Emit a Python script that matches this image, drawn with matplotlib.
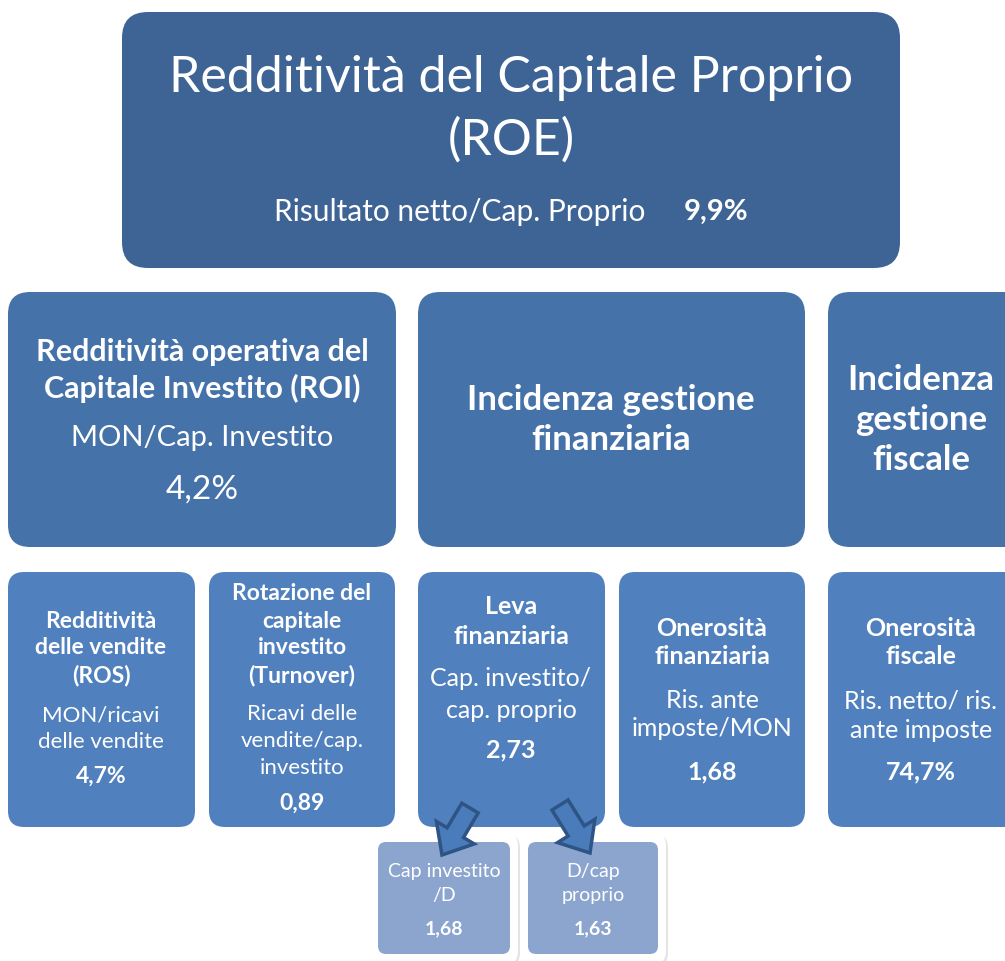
import matplotlib
matplotlib.use("Agg")
import matplotlib.pyplot as plt
from matplotlib.patches import FancyBboxPatch, FancyArrow

plt.rcParams['font.family'] = ['Lato', 'DejaVu Sans']

# Contenuti dello schema (testi e valori)
roe_title = ["Redditività del Capitale Proprio", "(ROE)"]
roe_formula = "Risultato netto/Cap. Proprio"
roe_value = "9,9%"

mid_titles = [
    ["Redditività operativa del", "Capitale Investito (ROI)"],
    ["Incidenza gestione", "finanziaria"],
    ["Incidenza", "gestione", "fiscale"],
]
mid_formulas = [["MON/Cap. Investito"], [], []]
mid_values = ["4,2%", "", ""]

low_titles = [
    ["Redditività", "delle vendite", "(ROS)"],
    ["Rotazione del", "capitale", "investito", "(Turnover)"],
    ["Leva", "finanziaria"],
    ["Onerosità", "finanziaria"],
    ["Onerosità", "fiscale"],
]
low_formulas = [
    ["MON/ricavi", "delle vendite"],
    ["Ricavi delle", "vendite/cap.", "investito"],
    ["Cap. investito/", "cap. proprio"],
    ["Ris. ante", "imposte/MON"],
    ["Ris. netto/ ris.", "ante imposte"],
]
low_values = ["4,7%", "0,89", "2,73", "1,68", "74,7%"]

sub_labels = [["Cap investito", "/D"], ["D/cap", "proprio"]]
sub_values = ["1,68", "1,63"]

# Colori
c_top = "#3E6496"
c_mid = "#4672AA"
c_low = "#5081BE"
c_sub = "#8BA5CE"
c_arrow = "#4A7BBA"
c_arrow_edge = "#2E5485"

fig = plt.figure(figsize=(10.05, 9.61), dpi=100)
ax = fig.add_axes([0, 0, 1, 1])
ax.set_xlim(0, 1005)
ax.set_ylim(961, 0)
ax.axis("off")


def box(x0, y0, x1, y1, color, r=22, **kw):
    p = FancyBboxPatch((x0, y0), x1 - x0, y1 - y0,
                       boxstyle=f"round,pad=0,rounding_size={r}",
                       fc=color, ec="none", **kw)
    ax.add_patch(p)
    return p


def lines(x, ys, texts, size, bold=False):
    for y, t in zip(ys, texts):
        ax.text(x, y, t, ha="center", va="center", color="white",
                fontsize=size, fontweight="bold" if bold else "normal")


# Livello 1: ROE
box(122, 12, 900, 268, c_top, r=26)
lines(511, [78, 140], roe_title, 36)
ax.text(460, 212, roe_formula, ha="center", va="center", color="white", fontsize=21.5)
ax.text(716, 212, roe_value, ha="center", va="center", color="white",
        fontsize=21, fontweight="bold")

# Livello 2
mid_x = [(8, 396), (418, 805), (828, 1030)]
mid_cx = [202, 611, 921]
mid_title_y = [[352, 388], [400, 440], [380, 420, 460]]
mid_size = [22, 25, 25]
for i in range(3):
    box(mid_x[i][0], 292, mid_x[i][1], 547, c_mid)
    lines(mid_cx[i], mid_title_y[i], mid_titles[i], mid_size[i], bold=True)
lines(mid_cx[0], [438], mid_formulas[0], 21)
lines(mid_cx[0], [490], [mid_values[0]], 24)

# Livello 3
low_x = [(8, 195), (209, 395), (418, 605), (619, 805), (828, 1030)]
low_cx = [101, 302, 511, 712, 921]
low_title_y = [[622, 648, 675], [594, 621, 648, 675], [607, 636], [629, 657], [629, 657]]
low_form_y = [[715, 742], [714, 741, 768], [679, 710], [700, 729], [701, 730]]
low_val_y = [776, 803, 750, 772, 772]
low_title_size = [16.5, 16.5, 18, 18, 18]
low_form_size = [16, 16, 18, 18, 18]
for i in range(5):
    box(low_x[i][0], 572, low_x[i][1], 827, c_low, r=16)
    lines(low_cx[i], low_title_y[i], low_titles[i], low_title_size[i], bold=True)
    lines(low_cx[i], low_form_y[i], low_formulas[i], low_form_size[i])
    lines(low_cx[i], [low_val_y[i]], [low_values[i]], low_title_size[i], bold=True)

# Sotto-indici della leva
sub_outer = [(370, 518), (520, 666)]
sub_inner = [(378, 510), (528, 658)]
sub_cx = [444, 593]
for i in range(2):
    box(sub_outer[i][0] + 1, 834, sub_outer[i][1] + 2, 967, "#E4E4E4", r=14)
    box(sub_outer[i][0], 832, sub_outer[i][1], 965, "white", r=14)
    box(sub_inner[i][0], 842, sub_inner[i][1], 954, c_sub, r=8)
    lines(sub_cx[i], [871, 896], sub_labels[i], 14)
    lines(sub_cx[i], [929], [sub_values[i]], 14, bold=True)

# Frecce
arrows = [((470, 808), (-28, 47)), ((560, 805), (30, 48))]
for (x, y), (dx, dy) in arrows:
    ax.add_patch(FancyArrow(x, y, dx, dy, width=19, head_width=44, head_length=26,
                            length_includes_head=True, fc=c_arrow, ec=c_arrow_edge,
                            lw=2.5, zorder=5))

fig.savefig("out.png", dpi=100)
